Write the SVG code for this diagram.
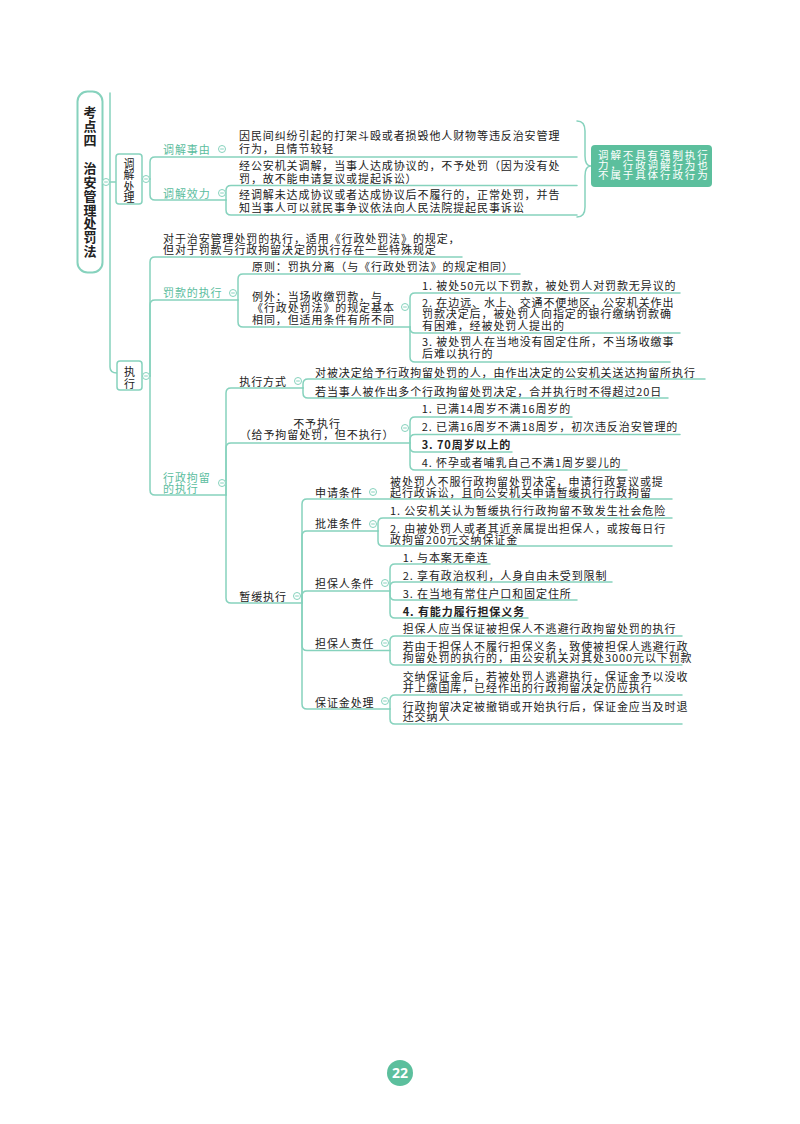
<svg xmlns="http://www.w3.org/2000/svg" xmlns:xlink="http://www.w3.org/1999/xlink" width="800" height="1124" viewBox="0 0 800 1124">
<style>
.ln{fill:none;stroke:#86d2bd;stroke-width:1.5;stroke-linecap:round}
.t{font-family:"Noto Sans CJK SC","Noto Sans",sans-serif;font-size:11px;letter-spacing:0.9px;fill:#222}
.tl{fill:#5bbd9e}
.b{font-weight:bold}
.box{fill:#fff;stroke:#86d2bd;stroke-width:1.5}
.rt{font-family:"Noto Sans CJK SC","Noto Sans",sans-serif;font-size:13px;font-weight:bold;fill:#222;text-anchor:middle}
.vt{font-family:"Noto Sans CJK SC","Noto Sans",sans-serif;font-size:11px;fill:#222;text-anchor:middle}
.ct{font-family:"Noto Sans CJK SC","Noto Sans",sans-serif;font-size:10.5px;letter-spacing:1.9px;fill:#fff}
</style>
<defs>
<g id="cc"><circle r="3.5" fill="#fff" stroke="#86d2bd" stroke-width="1"/><line x1="-1.8" y1="0" x2="1.8" y2="0" stroke="#86d2bd" stroke-width="1"/></g>
</defs>
<rect width="800" height="1124" fill="#fff"/>

<g id="connectors">
<path class="ln" d="M110,93 L110,367 Q110,373 117,373"/>
<path class="ln" d="M102,182 L116,182"/>
<path class="ln" d="M142,179 L150,179"/>
<path class="ln" d="M150,179 L150,162 Q150,157 155,157 L577,157"/>
<path class="ln" d="M150,179 L150,195 Q150,200 155,200 L226,200"/>
<path class="ln" d="M226,200 L226,190.5 Q226,185.5 231,185.5 L577,185.5"/>
<path class="ln" d="M226,200 L226,210 Q226,215 231,215 L577,215"/>
<path class="ln" d="M577,121 Q585,121 585,131 L585,156 Q585,166 591,166 Q585,166 585,176 L585,207 Q585,217 577,217"/>
<path class="ln" d="M142,376 L150,376"/>
<path class="ln" d="M150,376 L150,262 Q150,257 155,257 L462,257"/>
<path class="ln" d="M150,376 L150,305 Q150,300 155,300 L238,300"/>
<path class="ln" d="M150,376 L150,490 Q150,495 155,495 L226,495"/>
<path class="ln" d="M238,300 L238,279 Q238,274 243,274 L520,274"/>
<path class="ln" d="M238,300 L238,322 Q238,327 243,327 L410,327"/>
<path class="ln" d="M410,327 L410,298 Q410,293 415,293 L680,293"/>
<path class="ln" d="M410,327 L410,328 Q410,333 415,333 L680,333"/>
<path class="ln" d="M410,327 L410,357 Q410,362 415,362 L670,362"/>
<path class="ln" d="M226,495 L226,393 Q226,388 231,388 L303,388"/>
<path class="ln" d="M226,495 L226,448 Q226,443 231,443 L410,443"/>
<path class="ln" d="M226,495 L226,598 Q226,603 231,603 L302,603"/>
<path class="ln" d="M303,388 L303,384 Q303,379 308,379 L705,379"/>
<path class="ln" d="M303,388 L303,393 Q303,398 308,398 L668,398"/>
<path class="ln" d="M410,443 L410,422 Q410,417 415,417 L572,417"/>
<path class="ln" d="M410,443 L410,439.5 Q410,434.5 415,434.5 L680,434.5"/>
<path class="ln" d="M410,443 L410,447 Q410,452 415,452 L512,452"/>
<path class="ln" d="M410,443 L410,465 Q410,470 415,470 L627,470"/>
<path class="ln" d="M302,603 L302,504 Q302,499 307,499 L672,499"/>
<path class="ln" d="M302,603 L302,536 Q302,531 307,531 L378,531"/>
<path class="ln" d="M302,603 L302,596 Q302,591 307,591 L390,591"/>
<path class="ln" d="M302,603 L302,645.5 Q302,650.5 307,650.5 L390,650.5"/>
<path class="ln" d="M302,603 L302,704 Q302,709 307,709 L390,709"/>
<path class="ln" d="M378,531 L378,523 Q378,518 383,518 L672,518"/>
<path class="ln" d="M378,531 L378,541 Q378,546 383,546 L672,546"/>
<path class="ln" d="M390,591 L390,569 Q390,564 395,564 L490,564"/>
<path class="ln" d="M390,591 L390,587 Q390,582 395,582 L612,582"/>
<path class="ln" d="M390,591 L390,595 Q390,600 395,600 L577,600"/>
<path class="ln" d="M390,591 L390,613 Q390,618 395,618 L528,618"/>
<path class="ln" d="M390,650.5 L390,641 Q390,636 395,636 L682,636"/>
<path class="ln" d="M390,650.5 L390,660 Q390,665 395,665 L682,665"/>
<path class="ln" d="M390,709 L390,700 Q390,695 395,695 L682,695"/>
<path class="ln" d="M390,709 L390,719 Q390,724 395,724 L682,724"/>
</g>

<g id="root">
<rect x="77.5" y="91.5" width="25" height="181" rx="10" fill="#fff" stroke="#86d2bd" stroke-width="2"/>
<text class="rt" x="90" y="117">考</text>
<text class="rt" x="90" y="131">点</text>
<text class="rt" x="90" y="145">四</text>
<text class="rt" x="90" y="173">治</text>
<text class="rt" x="90" y="187">安</text>
<text class="rt" x="90" y="201">管</text>
<text class="rt" x="90" y="215">理</text>
<text class="rt" x="90" y="228">处</text>
<text class="rt" x="90" y="242">罚</text>
<text class="rt" x="90" y="256">法</text>
<use xlink:href="#cc" x="106" y="182"/>
</g>

<g id="n-tiaojie">
<rect class="box" x="116" y="154" width="26" height="50" rx="3"/>
<text class="vt" x="129" y="167.5">调</text>
<text class="vt" x="129" y="179">解</text>
<text class="vt" x="129" y="190.5">处</text>
<text class="vt" x="129" y="202">理</text>
<use xlink:href="#cc" x="146" y="179"/>
</g>

<g id="n-shiyou">
<text class="t tl" x="163" y="153.5">调解事由</text>
<use xlink:href="#cc" x="222" y="149"/>
</g>
<g id="n-shiyou-1">
<text class="t" x="239" y="139.5">因民间纠纷引起的打架斗殴或者损毁他人财物等违反治安管理</text>
<text class="t" x="239" y="153">行为，且情节较轻</text>
</g>
<g id="n-xiaoli">
<text class="t tl" x="163" y="197.5">调解效力</text>
<use xlink:href="#cc" x="222" y="193"/>
</g>
<g id="n-xiaoli-1">
<text class="t" x="239" y="169.5">经公安机关调解，当事人达成协议的，不予处罚（因为没有处</text>
<text class="t" x="239" y="182.5">罚，故不能申请复议或提起诉讼）</text>
</g>
<g id="n-xiaoli-2">
<text class="t" x="239" y="199">经调解未达成协议或者达成协议后不履行的，正常处罚，并告</text>
<text class="t" x="239" y="211.5">知当事人可以就民事争议依法向人民法院提起民事诉讼</text>
</g>
<g id="n-callout">
<rect x="591" y="145" width="121" height="42" rx="4" fill="#5cbf9d"/>
<text class="ct" x="598" y="158.5">调解不具有强制执行</text>
<text class="ct" x="598" y="168.5">力，行政调解行为也</text>
<text class="ct" x="598" y="178.5">不属于具体行政行为</text>
</g>

<g id="n-zhixing">
<rect class="box" x="117" y="361" width="25" height="29" rx="3"/>
<text class="vt" x="129.5" y="375.5">执</text>
<text class="vt" x="129.5" y="387.5">行</text>
<use xlink:href="#cc" x="146" y="376"/>
</g>
<g id="n-zhixing-intro">
<text class="t" x="163" y="242.8">对于治安管理处罚的执行，适用《行政处罚法》的规定，</text>
<text class="t" x="163" y="253.5">但对于罚款与行政拘留决定的执行存在一些特殊规定</text>
</g>
<g id="n-fakuan">
<text class="t tl" x="163" y="297.2">罚款的执行</text>
<use xlink:href="#cc" x="233" y="293"/>
</g>
<g id="n-yuanze">
<text class="t" x="252" y="271.2">原则：罚执分离（与《行政处罚法》的规定相同）</text>
</g>
<g id="n-liwai">
<text class="t" x="252" y="300.5">例外：当场收缴罚款，与</text>
<text class="t" x="252" y="312">《行政处罚法》的规定基本</text>
<text class="t" x="252" y="323.8">相同，但适用条件有所不同</text>
<use xlink:href="#cc" x="405" y="307"/>
</g>
<g id="n-liwai-1"><text class="t" x="422" y="289.5">1. 被处50元以下罚款，被处罚人对罚款无异议的</text></g>
<g id="n-liwai-2">
<text class="t" x="422" y="307.2">2. 在边远、水上、交通不便地区，公安机关作出</text>
<text class="t" x="422" y="317.8">罚款决定后，被处罚人向指定的银行缴纳罚款确</text>
<text class="t" x="422" y="329.5">有困难，经被处罚人提出的</text>
</g>
<g id="n-liwai-3">
<text class="t" x="422" y="346.2">3. 被处罚人在当地没有固定住所，不当场收缴事</text>
<text class="t" x="422" y="357.8">后难以执行的</text>
</g>

<g id="n-juliu">
<text class="t tl" x="163" y="482.2">行政拘留</text>
<text class="t tl" x="163" y="492.8">的执行</text>
<use xlink:href="#cc" x="222" y="483"/>
</g>
<g id="n-fangshi">
<text class="t" x="239.3" y="385.5">执行方式</text>
<use xlink:href="#cc" x="298" y="381"/>
</g>
<g id="n-fangshi-1"><text class="t" x="315" y="376.5">对被决定给予行政拘留处罚的人，由作出决定的公安机关送达拘留所执行</text></g>
<g id="n-fangshi-2"><text class="t" x="315" y="396">若当事人被作出多个行政拘留处罚决定，合并执行时不得超过20日</text></g>
<g id="n-buyu">
<text class="t" x="317" y="427.8" text-anchor="middle">不予执行</text>
<text class="t" x="317" y="438.8" text-anchor="middle">（给予拘留处罚，但不执行）</text>
<use xlink:href="#cc" x="405" y="428"/>
</g>
<g id="n-buyu-1"><text class="t" x="421.7" y="412.5">1. 已满14周岁不满16周岁的</text></g>
<g id="n-buyu-2"><text class="t" x="421.7" y="430.5">2. 已满16周岁不满18周岁，初次违反治安管理的</text></g>
<g id="n-buyu-3"><text class="t b" x="421.7" y="448.8">3. 70周岁以上的</text></g>
<g id="n-buyu-4"><text class="t" x="421.7" y="466.8">4. 怀孕或者哺乳自己不满1周岁婴儿的</text></g>

<g id="n-zanhuan">
<text class="t" x="239.3" y="600.5">暂缓执行</text>
<use xlink:href="#cc" x="297" y="596"/>
</g>
<g id="n-shenqing">
<text class="t" x="315" y="496.5">申请条件</text>
<use xlink:href="#cc" x="373" y="492"/>
</g>
<g id="n-shenqing-1">
<text class="t" x="390" y="485.5">被处罚人不服行政拘留处罚决定，申请行政复议或提</text>
<text class="t" x="390" y="496.5">起行政诉讼，且向公安机关申请暂缓执行行政拘留</text>
</g>
<g id="n-pizhun">
<text class="t" x="315" y="527.5">批准条件</text>
<use xlink:href="#cc" x="373" y="524"/>
</g>
<g id="n-pizhun-1"><text class="t" x="390" y="514.5">1. 公安机关认为暂缓执行行政拘留不致发生社会危险</text></g>
<g id="n-pizhun-2">
<text class="t" x="390" y="532.5">2. 由被处罚人或者其近亲属提出担保人，或按每日行</text>
<text class="t" x="390" y="543.5">政拘留200元交纳保证金</text>
</g>
<g id="n-danbao">
<text class="t" x="315" y="587.5">担保人条件</text>
<use xlink:href="#cc" x="385" y="583"/>
</g>
<g id="n-danbao-1"><text class="t" x="402.7" y="561.5">1. 与本案无牵连</text></g>
<g id="n-danbao-2"><text class="t" x="402.7" y="579.5">2. 享有政治权利，人身自由未受到限制</text></g>
<g id="n-danbao-3"><text class="t" x="402.7" y="597.5">3. 在当地有常住户口和固定住所</text></g>
<g id="n-danbao-4"><text class="t b" x="402.7" y="615.5">4. 有能力履行担保义务</text></g>
<g id="n-zeren">
<text class="t" x="315" y="647.5">担保人责任</text>
<use xlink:href="#cc" x="385" y="643"/>
</g>
<g id="n-zeren-1"><text class="t" x="402.7" y="632.5">担保人应当保证被担保人不逃避行政拘留处罚的执行</text></g>
<g id="n-zeren-2">
<text class="t" x="402.7" y="651.2">若由于担保人不履行担保义务，致使被担保人逃避行政</text>
<text class="t" x="402.7" y="661.8">拘留处罚的执行的，由公安机关对其处3000元以下罚款</text>
</g>
<g id="n-baozheng">
<text class="t" x="315" y="706.5">保证金处理</text>
<use xlink:href="#cc" x="385" y="701"/>
</g>
<g id="n-baozheng-1">
<text class="t" x="402.7" y="681.2">交纳保证金后，若被处罚人逃避执行，保证金予以没收</text>
<text class="t" x="402.7" y="691.8">并上缴国库，已经作出的行政拘留决定仍应执行</text>
</g>
<g id="n-baozheng-2">
<text class="t" x="402.7" y="710.5">行政拘留决定被撤销或开始执行后，保证金应当及时退</text>
<text class="t" x="402.7" y="721.2">还交纳人</text>
</g>

<g id="page-number">
<circle cx="400" cy="1073" r="13" fill="#5cbf9d"/>
<text x="400" y="1078" text-anchor="middle" font-family="'Noto Sans','Liberation Sans',sans-serif" font-size="14" font-weight="bold" fill="#fff">22</text>
</g>
</svg>
